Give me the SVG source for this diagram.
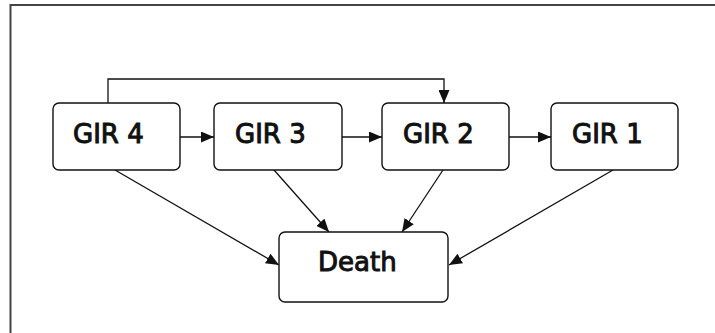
<svg xmlns="http://www.w3.org/2000/svg" width="715" height="333" viewBox="0 0 715 333">
<defs>
<style>
.box{fill:#fff;stroke:#111;stroke-width:1.4}
.lbl{font-family:"DejaVu Sans",sans-serif;font-size:26px;fill:#111;stroke:#111;stroke-width:1}
.edge{fill:none;stroke:#111;stroke-width:1.3}
</style>
<marker id="ah" markerWidth="13" markerHeight="11" refX="13" refY="5.5" orient="auto" markerUnits="userSpaceOnUse">
<path d="M0,0 L13,5.5 L0,11 z" fill="#111"/>
</marker>
</defs>
<rect x="0" y="0" width="715" height="333" fill="#fff"/>
<rect x="10.5" y="5" width="720" height="340" fill="none" stroke="#444" stroke-width="2"/>
<g id="connectors">
<path class="edge" d="M108,103 V79 H444 V103" marker-end="url(#ah)"/>
<line class="edge" x1="180" y1="137" x2="214" y2="137" marker-end="url(#ah)"/>
<line class="edge" x1="342" y1="137" x2="382" y2="137" marker-end="url(#ah)"/>
<line class="edge" x1="509" y1="137" x2="551" y2="137" marker-end="url(#ah)"/>
<line class="edge" x1="115" y1="170" x2="279" y2="265" marker-end="url(#ah)"/>
<line class="edge" x1="274" y1="170" x2="329" y2="232" marker-end="url(#ah)"/>
<line class="edge" x1="443" y1="170" x2="402" y2="232" marker-end="url(#ah)"/>
<line class="edge" x1="613" y1="170" x2="449" y2="265" marker-end="url(#ah)"/>
</g>
<g id="gir4">
<rect class="box" x="53" y="103" width="127" height="67" rx="6"/>
<text class="lbl" x="73" y="142.5">GIR 4</text>
</g>
<g id="gir3">
<rect class="box" x="214" y="103" width="128" height="67" rx="6"/>
<text class="lbl" x="235" y="142.5">GIR 3</text>
</g>
<g id="gir2">
<rect class="box" x="382" y="103" width="127" height="67" rx="6"/>
<text class="lbl" x="403" y="142.5">GIR 2</text>
</g>
<g id="gir1">
<rect class="box" x="551" y="103" width="127" height="67" rx="6"/>
<text class="lbl" x="572" y="142.5">GIR 1</text>
</g>
<g id="death">
<rect class="box" x="279" y="232" width="169" height="70" rx="6"/>
<text class="lbl" x="318" y="271">Death</text>
</g>
</svg>
